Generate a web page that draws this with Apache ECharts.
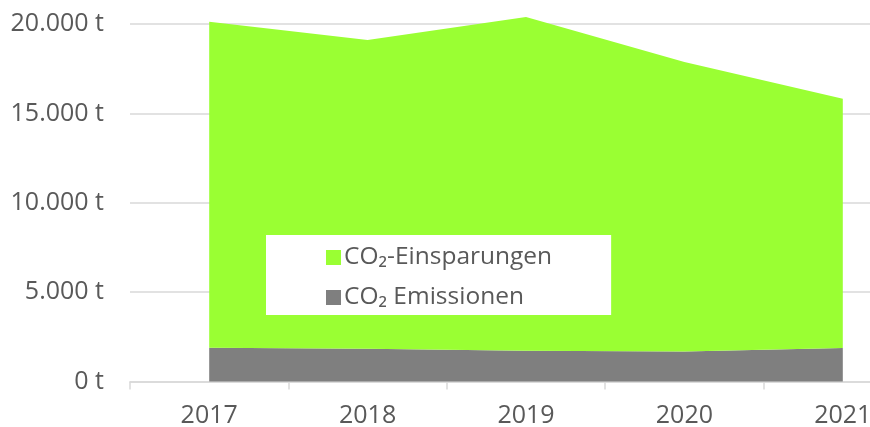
<!DOCTYPE html>
<html>
<head>
<meta charset="utf-8">
<script src="https://cdn.jsdelivr.net/npm/echarts@6/dist/echarts.min.js"></script>
<style>
  html, body { margin: 0; padding: 0; background: #fff; overflow: hidden; }
  /* die Zeichenfläche ist breiter als das Fenster, rechts wird abgeschnitten */
  #chart { width: 922px; height: 427px; }
</style>
</head>
<body>
<div id="chart"></div>
<script>
// Jahre
const years = ['2017', '2018', '2019', '2020', '2021']
// CO2 Emissionen (t)
const emissions = [1890, 1830, 1720, 1680, 1870]
// CO2-Einsparungen (t), gestapelt auf die Emissionen
const savings = [18240, 17270, 18670, 16190, 13950]
// Beschriftung der y-Achse
const yTicks = [0, 5000, 10000, 15000, 20000]

const textColor = '#595959'
const gridColor = '#d9d9d9'
const font = 'Open Sans'

const chart = echarts.init(document.getElementById('chart'))

const fmt = v => String(v).replace(/\B(?=(\d{3})+(?!\d))/g, '.') + ' t'

const optionData = {
  animation: false,
  textStyle: { fontFamily: font },
  grid: {
    left: 130,
    top: 24,
    right: 0,
    bottom: 45.5,
    outerBoundsMode: 'none',
    containLabel: false
  },
  legend: {
    left: 266,
    top: 235,
    orient: 'vertical',
    backgroundColor: '#fff',
    padding: [10, 59, 5, 60],
    itemGap: 15,
    itemWidth: 15,
    itemHeight: 15,
    icon: 'rect',
    data: ['CO₂-Einsparungen', 'CO₂ Emissionen'],
    textStyle: {
      color: textColor,
      fontSize: 24.5,
      lineHeight: 24,
      fontFamily: font,
      padding: [0, 0, 0, -2]
    }
  },
  xAxis: {
    type: 'category',
    data: years,
    boundaryGap: true,
    axisLine: { lineStyle: { color: gridColor, width: 1.5 } },
    axisTick: { show: true, length: 8, lineStyle: { color: gridColor, width: 1.5 } },
    axisLabel: { color: textColor, fontSize: 25, margin: 22, fontFamily: font }
  },
  yAxis: {
    type: 'value',
    min: yTicks[0],
    max: yTicks[yTicks.length - 1],
    interval: yTicks[1] - yTicks[0],
    axisLine: { show: false },
    axisTick: { show: false },
    splitLine: { lineStyle: { color: gridColor, width: 1.5 } },
    axisLabel: {
      color: textColor,
      fontSize: 25,
      margin: 26,
      fontFamily: font,
      formatter: fmt
    }
  },
  series: [
    {
      name: 'CO₂ Emissionen',
      type: 'line',
      stack: 'co2',
      data: emissions,
      symbol: 'none',
      clip: false,
      lineStyle: { width: 0 },
      itemStyle: { color: '#7f7f7f' },
      areaStyle: { color: '#7f7f7f', opacity: 1 }
    },
    {
      name: 'CO₂-Einsparungen',
      type: 'line',
      stack: 'co2',
      data: savings,
      symbol: 'none',
      clip: false,
      lineStyle: { width: 0 },
      itemStyle: { color: '#9aff33' },
      areaStyle: { color: '#9aff33', opacity: 1 }
    }
  ]
}

chart.setOption(optionData)
</script>
</body>
</html>
